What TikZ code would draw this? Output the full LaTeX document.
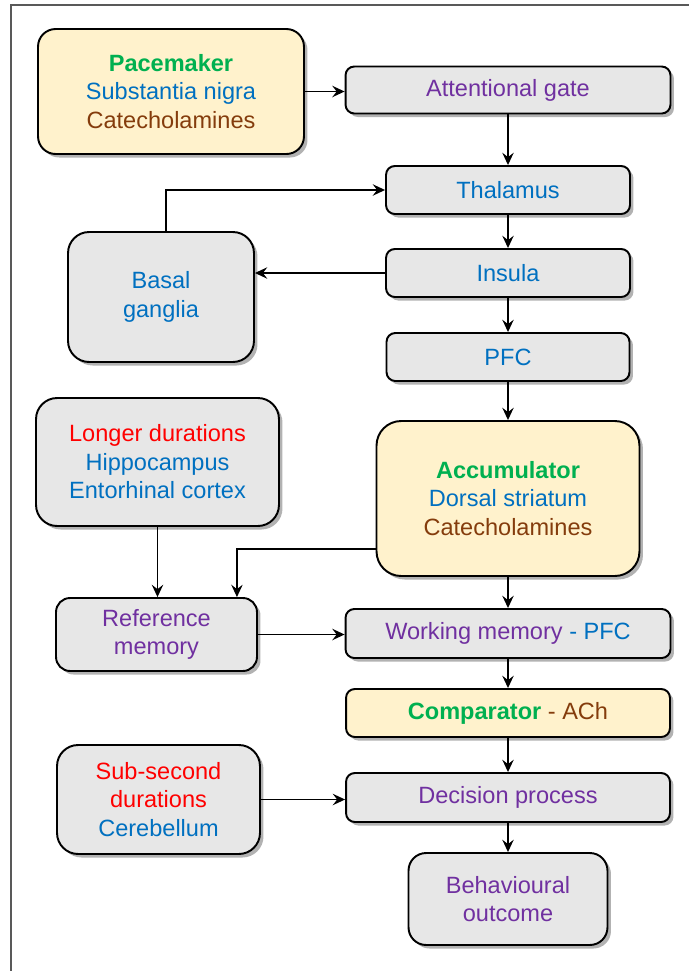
\documentclass[tikz,border=0pt]{standalone}
\usepackage{fontspec}
\setmainfont{Liberation Sans}
\usetikzlibrary{arrows.meta,shadows}

\begin{document}
\begin{tikzpicture}[x=0.02cm, y=-0.02cm,
  box/.style={draw=black, line width=1.1pt, fill=boxgrey, align=center,
    rounded corners=5pt, inner sep=2pt,
    font=\fontsize{13.4}{16.2}\selectfont,
    drop shadow={shadow xshift=2pt, shadow yshift=-2pt, fill=black, opacity=0.3}},
  yellowbox/.style={box, fill=boxyellow},
  arr/.style={-{Stealth[length=7pt, width=6.5pt, inset=2.5pt]}, line width=0.8pt}]

  \definecolor{boxgrey}{RGB}{231, 231, 231}
  \definecolor{boxyellow}{RGB}{255, 242, 204}
  \definecolor{txtgreen}{RGB}{0, 176, 80}
  \definecolor{txtblue}{RGB}{0, 112, 192}
  \definecolor{txtbrown}{RGB}{132, 60, 12}
  \definecolor{txtpurple}{RGB}{112, 48, 160}
  \definecolor{txtred}{RGB}{255, 0, 0}

  \useasboundingbox (0, 0) rectangle (689, 971);

  % Frame
  \draw[line width=0.9pt, black!65] (11, 971) -- (11, 5) -- (689, 5);

  % Left column
  \node[yellowbox, rounded corners=10pt, minimum width=5.32cm, minimum height=2.50cm] (pace) at (171, 91.5)
    {\textcolor{txtgreen}{\bfseries Pacemaker}\\ \textcolor{txtblue}{Substantia nigra}\\ \textcolor{txtbrown}{Catecholamines}};
  \node[box, rounded corners=12pt, minimum width=3.72cm, minimum height=2.60cm] (basal) at (161, 297)
    {\textcolor{txtblue}{Basal}\\ \textcolor{txtblue}{ganglia}};
  \node[box, rounded corners=12pt, minimum width=4.86cm, minimum height=2.56cm] (longer) at (157.5, 462)
    {\textcolor{txtred}{Longer durations}\\ \textcolor{txtblue}{Hippocampus}\\ \textcolor{txtblue}{Entorhinal cortex}};
  \node[box, rounded corners=8pt, minimum width=4.02cm, minimum height=1.46cm] (refmem) at (156.5, 634.5)
    {\textcolor{txtpurple}{Reference}\\ \textcolor{txtpurple}{memory}};
  \node[box, rounded corners=12pt, minimum width=4.06cm, minimum height=2.18cm] (sub) at (158.5, 799.5)
    {\textcolor{txtred}{Sub-second}\\ \textcolor{txtred}{durations}\\ \textcolor{txtblue}{Cerebellum}};

  % Right column
  \node[box, minimum width=6.50cm, minimum height=0.94cm] (gate) at (508, 90)
    {\textcolor{txtpurple}{Attentional gate}};
  \node[box, minimum width=4.88cm, minimum height=0.96cm] (thal) at (508, 190)
    {\textcolor{txtblue}{Thalamus}};
  \node[box, minimum width=4.88cm, minimum height=0.96cm] (insula) at (508, 273)
    {\textcolor{txtblue}{Insula}};
  \node[box, minimum width=4.86cm, minimum height=0.96cm] (pfc) at (508, 357)
    {\textcolor{txtblue}{PFC}};
  \node[yellowbox, rounded corners=14pt, minimum width=5.26cm, minimum height=3.10cm] (accum) at (508, 498.5)
    {\textcolor{txtgreen}{\bfseries Accumulator}\\ \textcolor{txtblue}{Dorsal striatum}\\ \textcolor{txtbrown}{Catecholamines}};
  \node[box, minimum width=6.50cm, minimum height=0.98cm] (wm) at (508, 633.5)
    {\textcolor{txtpurple}{Working memory} \textcolor{txtblue}{- PFC}};
  \node[yellowbox, minimum width=6.48cm, minimum height=0.96cm] (comp) at (508, 713)
    {\textcolor{txtgreen}{\bfseries Comparator} \textcolor{txtbrown}{- ACh}};
  \node[box, minimum width=6.48cm, minimum height=0.98cm] (dec) at (508, 797.5)
    {\textcolor{txtpurple}{Decision process}};
  \node[box, rounded corners=10pt, minimum width=3.98cm, minimum height=1.84cm] (behav) at (508, 899)
    {\textcolor{txtpurple}{Behavioural}\\ \textcolor{txtpurple}{outcome}};

  % Connectors
  \draw[arr] (pace.east) -- (pace.east -| gate.west);
  \draw[arr] (gate) -- (thal);
  \draw[arr] ([xshift=0.1cm]basal.north) |- (thal.west);
  \draw[arr] (thal) -- (insula);
  \draw[arr] (insula.west) -- (insula.west -| basal.east);
  \draw[arr] (insula) -- (pfc);
  \draw[arr] (pfc) -- (accum);
  \draw[arr] (longer) -- (longer |- refmem.north);
  \draw[arr] ([yshift=-1.01cm]accum.west) -| ([xshift=-0.42cm]refmem.north east);
  \draw[arr] (refmem.east) -- (refmem.east -| wm.west);
  \draw[arr] (accum) -- (wm);
  \draw[arr] (wm) -- (comp);
  \draw[arr] (comp) -- (dec);
  \draw[arr] (sub.east) -- (sub.east -| dec.west);
  \draw[arr] (dec) -- (behav);

\end{tikzpicture}
\end{document}
